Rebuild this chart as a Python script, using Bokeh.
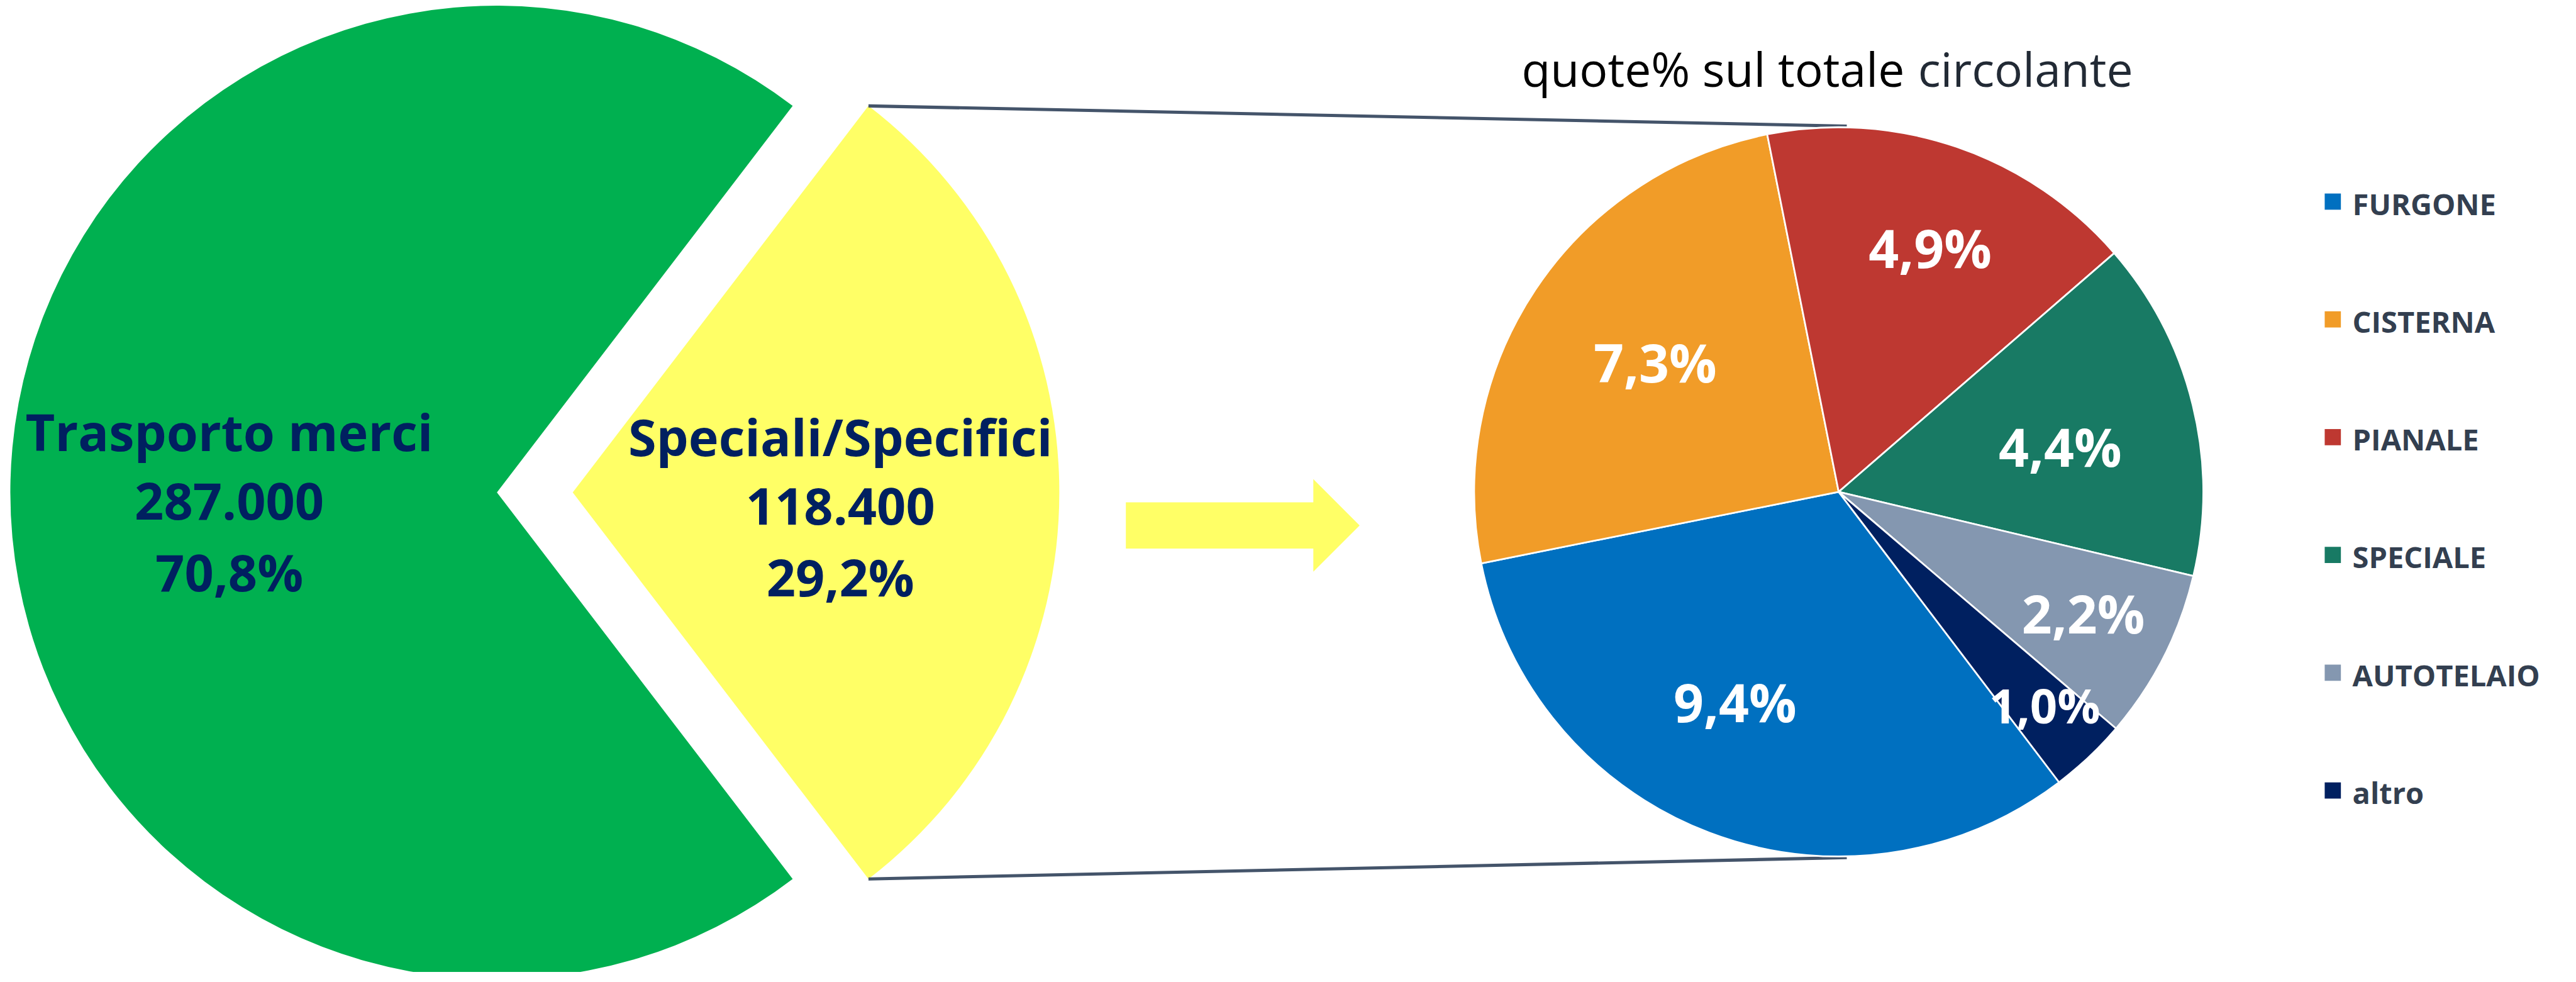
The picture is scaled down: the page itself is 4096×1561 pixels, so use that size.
import math
from bokeh.plotting import figure
from bokeh.models import Range1d
from bokeh.embed import file_html
from bokeh.resources import INLINE
from bokeh.core.properties import value

# ---------------- data ----------------
main_labels = ["Trasporto merci", "Speciali/Specifici"]
main_values = [287000, 118400]
main_value_text = ["287.000", "118.400"]
main_pct_text = ["70,8%", "29,2%"]
main_colors = ["#00B050", "#FFFF66"]

sub_labels = ["FURGONE", "CISTERNA", "PIANALE", "SPECIALE", "AUTOTELAIO", "altro"]
sub_values = [9.4, 7.3, 4.9, 4.4, 2.2, 1.0]
sub_pct_text = ["9,4%", "7,3%", "4,9%", "4,4%", "2,2%", "1,0%"]
sub_colors = ["#0070C0", "#F19C28", "#BE3831", "#187A64", "#8497B0", "#002060"]

title_parts = ["quote% sul totale", "circolante"]
title_colors = ["#000000", "#222A35"]

# ---------------- layout (reference pixel units) ----------------
S = 0.92
W, H = 4080, 1545
OFF = 8 / S
L_CX, L_CY, L_R = 867, 859, 841
EXPLODE = 131
R_CX, R_CY, R_R = 3186, 858, 630
SUB_START = -52.8  # degrees, first slice starts here and runs clockwise
LBL_R = [0.634, 0.622, 0.724, 0.622, 0.745, 0.807]
LBL_DA = [-5.9, -2.3, -1.4, -1.4, 1.2, 1.1]
LBL_SIZE = [84, 84, 84, 84, 84, 76]
NAVY = "#002060"
FONT = value("Open Sans")
DESC = 0.293  # font descent (em) -- compensates the baseline placement


def by(y_baseline_ref, px):
    """data-y for a text whose alphabetic baseline must sit at reference y."""
    return -y_baseline_ref + DESC * px / S


p = figure(width=W, height=H, output_backend="svg", toolbar_location=None,
           x_axis_type=None, y_axis_type=None,
           x_range=Range1d(OFF, OFF + W / S), y_range=Range1d(-(OFF + H / S), -OFF),
           min_border=0)
p.outline_line_color = None
p.background_fill_color = "white"
p.border_fill_color = "white"
p.xgrid.visible = False
p.ygrid.visible = False

# ---------------- main pie ----------------
tot = sum(main_values)
a_y = main_values[1] / tot * 2 * math.pi
half = a_y / 2
p.wedge(x=[L_CX], y=[-L_CY], radius=L_R, start_angle=[half], end_angle=[2 * math.pi - half],
        fill_color=main_colors[0], line_color=None)
YX = L_CX + EXPLODE
p.wedge(x=[YX], y=[-L_CY], radius=L_R, start_angle=[-half], end_angle=[half],
        fill_color=main_colors[1], line_color=None)

# main labels
GAP = 121
MPX = 81
for cx, first, lines in [
    (L_CX - 0.55 * L_R, -80, [main_labels[0], main_value_text[0], main_pct_text[0]]),
    (YX + 0.55 * L_R, -71, [main_labels[1], main_value_text[1], main_pct_text[1]]),
]:
    p.text(x=[cx] * 3, y=[by(L_CY + first + i * GAP, MPX) for i in range(3)], text=lines,
           text_font=FONT, text_font_style="bold", text_font_size=value(f"{MPX}px"),
           text_align="center", text_baseline="alphabetic", text_color=NAVY)

# ---------------- connector lines ----------------
top_x = YX + L_R * math.cos(half)
top_y = L_CY - L_R * math.sin(half)
p.line(x=[top_x, R_CX + 14], y=[-top_y, -(R_CY - R_R - 2)], line_color="#44546A", line_width=5.5 * S)
p.line(x=[top_x, R_CX + 14], y=[-(2 * L_CY - top_y), -(R_CY + R_R + 2)], line_color="#44546A", line_width=5.5 * S)

# ---------------- arrow ----------------
AX0, AX1, ATIP, ACY, ASH, AHH = 1954, 2278, 2358, 916, 40, 80
p.patch(x=[AX0, AX1, AX1, ATIP, AX1, AX1, AX0],
        y=[-(ACY - ASH), -(ACY - ASH), -(ACY - AHH), -ACY, -(ACY + AHH), -(ACY + ASH), -(ACY + ASH)],
        fill_color="#FFFF66", line_color=None)

# ---------------- sub pie ----------------
stot = sum(sub_values)
starts, ends, mids = [], [], []
cur = math.radians(SUB_START)
for v in sub_values:
    a = v / stot * 2 * math.pi
    ends.append(cur)
    starts.append(cur - a)
    mids.append(cur - a / 2)
    cur -= a
p.wedge(x=[R_CX] * len(sub_values), y=[-R_CY] * len(sub_values), radius=R_R,
        start_angle=starts, end_angle=ends, fill_color=sub_colors,
        line_color="white", line_width=3 * S)

for i, t in enumerate(sub_pct_text):
    ang = mids[i] + math.radians(LBL_DA[i])
    lx = R_CX + LBL_R[i] * R_R * math.cos(ang)
    ly_c = R_CY - LBL_R[i] * R_R * math.sin(ang)  # reference-y of text centre
    cap = LBL_SIZE[i] / S * 0.714
    p.text(x=[lx], y=[by(ly_c + cap / 2, LBL_SIZE[i])], text=[t], text_font=FONT,
           text_font_style="bold", text_font_size=value(f"{LBL_SIZE[i]}px"),
           text_align="center", text_baseline="alphabetic", text_color="white")

# ---------------- title ----------------
TPX = 75
p.text(x=[2638], y=[by(151, TPX)], text=[title_parts[0]], text_font=FONT,
       text_font_size=value(f"{TPX}px"), text_align="left", text_baseline="alphabetic",
       text_color=title_colors[0])
p.text(x=[3323], y=[by(151, TPX)], text=[title_parts[1]], text_font=FONT,
       text_font_size=value(f"{TPX}px"), text_align="left", text_baseline="alphabetic",
       text_color=title_colors[1])

# ---------------- legend ----------------
LEG_X, LEG_Y0, LEG_STEP, SQ = 4040, 356.5, 203.5, 28
LPX = 47
leg_c = [LEG_Y0 + i * LEG_STEP for i in range(len(sub_labels))]
p.rect(x=[LEG_X] * len(sub_labels), y=[-c for c in leg_c], width=SQ, height=SQ,
       fill_color=sub_colors, line_color=None)
p.text(x=[LEG_X + 34] * len(sub_labels), y=[by(c + 18.5, LPX) for c in leg_c], text=sub_labels,
       text_font=FONT, text_font_style="bold", text_font_size=value(f"{LPX}px"),
       text_align="left", text_baseline="alphabetic", text_color="#333F50")

open("out.html", "w").write(file_html(p, INLINE))
